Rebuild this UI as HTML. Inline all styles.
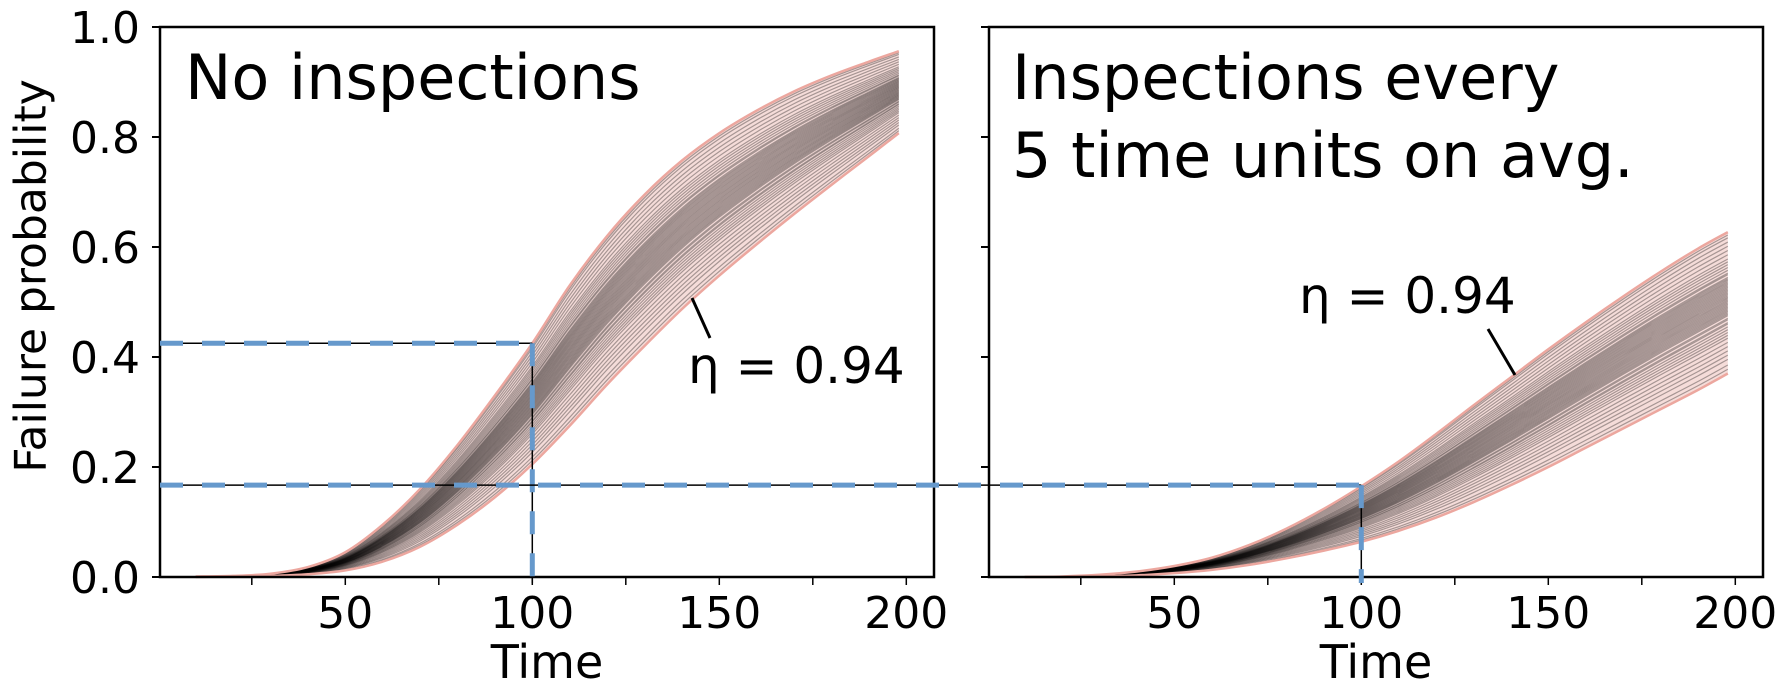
<!DOCTYPE html>
<html><head><meta charset="utf-8"><style>
html,body{margin:0;padding:0;background:#fff;}
svg{display:block;font-family:"DejaVu Sans","Liberation Sans",sans-serif;}
</style></head><body>
<svg id="chart" width="1786" height="691" viewBox="0 0 1786 691">
<g id="left"></g>
<g id="right"></g>
<g id="overlay"></g>
<text x="31" y="276" font-size="44" text-anchor="middle" dominant-baseline="central" transform="rotate(-90 31 276)">Failure probability</text>
<text x="185" y="99" font-size="62">No inspections</text>
<text x="1012" y="99" font-size="62">Inspections every</text>
<text x="1012" y="177" font-size="62">5 time units on avg.</text>
<text x="688" y="383" font-size="50">η = 0.94</text>
<line x1="692" y1="298" x2="710" y2="338" stroke="#000" stroke-width="3"/>
<text x="1299" y="313" font-size="50">η = 0.94</text>
<line x1="1488" y1="329" x2="1515" y2="375" stroke="#000" stroke-width="3"/>
</svg>
<script>
const times = [10,20,30,40,50,60,70,80,90,100,110,120,130,140,150,160,170,180,190,198];
const leftUpper = [0.001,0.002,0.006,0.018,0.045,0.095,0.16,0.24,0.33,0.425,0.53,0.62,0.695,0.757,0.807,0.848,0.883,0.912,0.937,0.956];
const leftLower = [0,0.001,0.002,0.005,0.012,0.028,0.055,0.095,0.145,0.205,0.275,0.35,0.42,0.487,0.548,0.605,0.66,0.713,0.765,0.807];
const rightUpper = [0,0.001,0.004,0.01,0.02,0.035,0.058,0.088,0.124,0.165,0.21,0.26,0.312,0.363,0.414,0.463,0.51,0.555,0.597,0.627];
const rightLower = [0,0,0.001,0.003,0.007,0.013,0.022,0.034,0.048,0.064,0.084,0.108,0.136,0.167,0.2,0.235,0.27,0.305,0.34,0.37];
const sampleFracs = [0.03,0.06,0.1,0.13,0.16,0.19,0.22,0.25,0.27,0.29,0.31,0.33,0.35,0.36,0.38,0.39,0.41,0.42,0.43,0.44,0.45,0.46,0.47,0.48,0.49,0.5,0.51,0.52,0.53,0.54,0.55,0.56,0.57,0.58,0.59,0.6,0.61,0.62,0.63,0.64,0.65,0.66,0.67,0.68,0.7,0.71,0.73,0.75,0.77,0.79,0.81,0.84,0.87,0.9,0.93,0.96,0.98];
const yTicks = [0,0.2,0.4,0.6,0.8,1.0];
const yTickLabels = ["0.0","0.2","0.4","0.6","0.8","1.0"];
const xTicks = [25,50,75,100,125,150,175,200];
const xTickLabels = {50:"50",100:"100",150:"150",200:"200"};
const refUpperLevel = 0.425;
const refLowerLevel = 0.167;
const refTime = 100;

const NS = "http://www.w3.org/2000/svg";
const Y0 = 577, Y1 = 27;
function yScale(v){ return Y0 - v*(Y0-Y1); }
function makeX(offset){ return t => 158.3 + offset + t*3.74; }
const panels = [
  {g:document.getElementById('left'), x0:160, x1:934, xs:makeX(0), up:leftUpper, lo:leftLower, labels:true, name:'left'},
  {g:document.getElementById('right'), x0:989, x1:1763, xs:makeX(829), up:rightUpper, lo:rightLower, labels:false, name:'right'}
];
function el(tag, attrs, parent){
  const e = document.createElementNS(NS, tag);
  for (const k in attrs) e.setAttribute(k, attrs[k]);
  parent.appendChild(e);
  return e;
}
function pathThrough(pts){
  let d = `M${pts[0][0]},${pts[0][1]}`;
  for (let i=0;i<pts.length-1;i++){
    const p0=pts[Math.max(0,i-1)], p1=pts[i], p2=pts[i+1], p3=pts[Math.min(pts.length-1,i+2)];
    const c1=[p1[0]+(p2[0]-p0[0])/6, p1[1]+(p2[1]-p0[1])/6];
    const c2=[p2[0]-(p3[0]-p1[0])/6, p2[1]-(p3[1]-p1[1])/6];
    d += ` C${c1[0]},${c1[1]} ${c2[0]},${c2[1]} ${p2[0]},${p2[1]}`;
  }
  return d;
}
panels.forEach(P => {
  const upPts = times.map((t,i)=>[P.xs(t), yScale(P.up[i])]);
  const loPts = times.map((t,i)=>[P.xs(t), yScale(P.lo[i])]);
  const upD = pathThrough(upPts);
  const loRev = pathThrough(loPts.slice().reverse());
  const band = el('path', {d: upD + ' L' + loRev.slice(1) + ' Z', fill:'#f5dcd9', stroke:'none'}, P.g);
  
  
  sampleFracs.forEach(f => {
    const pts = times.map((t,i)=>[P.xs(t), yScale(P.lo[i] + f*(P.up[i]-P.lo[i]))]);
    const ln = el('path', {d: pathThrough(pts), fill:'none', stroke:'rgba(0,0,0,0.32)', 'stroke-width':1.2}, P.g);
    
    
  });
  const ue = el('path', {d: upD, fill:'none', stroke:'#eca79f', 'stroke-width':2.5}, P.g);
  
  
  const le = el('path', {d: pathThrough(loPts), fill:'none', stroke:'#eca79f', 'stroke-width':2.5}, P.g);
  
  
  const frame = el('rect', {x:P.x0, y:Y1, width:P.x1-P.x0, height:Y0-Y1, fill:'none', stroke:'#000', 'stroke-width':2.5}, P.g);
  
  
  yTicks.forEach((v,i) => {
    const tk = el('line', {x1:P.x0-8, x2:P.x0, y1:yScale(v), y2:yScale(v), stroke:'#000', 'stroke-width':2}, P.g);
    
    
    if (P.labels){
      const tx = el('text', {x:140, y:yScale(v)+16, 'font-size':44, 'text-anchor':'end'}, P.g);
      tx.textContent = yTickLabels[i];
      
      
    }
  });
  xTicks.forEach(t => {
    const x = P.xs(t);
    const tk = el('line', {x1:x, x2:x, y1:Y0, y2:Y0+8, stroke:'#000', 'stroke-width':1.5}, P.g);
    
    
    if (xTickLabels[t]){
      const tx = el('text', {x:x, y:628, 'font-size':44, 'text-anchor':'middle'}, P.g);
      tx.textContent = xTickLabels[t];
      
      
    }
  });
  const xt = el('text', {x:(P.x0+P.x1)/2, y:678, 'font-size':46, 'text-anchor':'middle'}, P.g);
  xt.textContent = 'Time';
  
  
});
const ov = document.getElementById('overlay');
const lx = panels[0].xs(refTime), rx = panels[1].xs(refTime);
const yU = yScale(refUpperLevel), yL = yScale(refLowerLevel);
const segs = [
  ['upper-level-line', 160, yU, lx, yU],
  ['left-time-line', lx, yU, lx, Y0+6],
  ['lower-level-line', 160, yL, rx, yL],
  ['right-time-line', rx, yL, rx, Y0+6]
];
segs.forEach(s => {
  const a = el('line', {x1:s[1], y1:s[2], x2:s[3], y2:s[4], stroke:'#000', 'stroke-width':1.5}, ov);
  
  
  const b = el('line', {x1:s[1], y1:s[2], x2:s[3], y2:s[4], stroke:'#6699cc', 'stroke-width':5, 'stroke-dasharray':'23 19'}, ov);
  
  
});
</script>
</body></html>
